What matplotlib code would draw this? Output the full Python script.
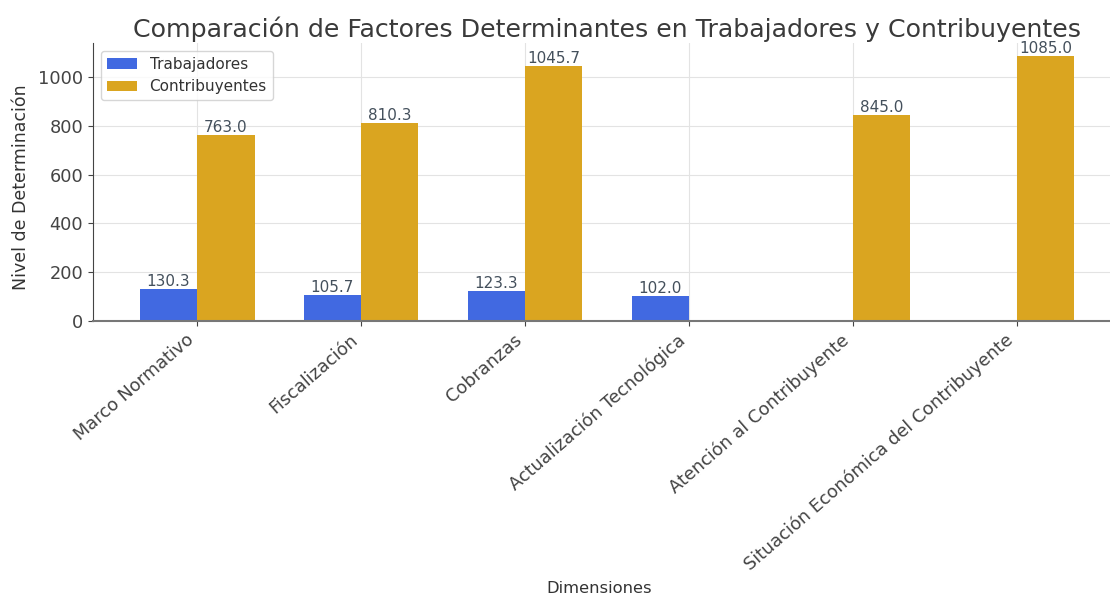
import numpy as np
import matplotlib
matplotlib.use("Agg")
import matplotlib.pyplot as plt

dimensiones = [
    "Marco Normativo",
    "Fiscalización",
    "Cobranzas",
    "Actualización Tecnológica",
    "Atención al Contribuyente",
    "Situación Económica del Contribuyente",
]
trabajadores = [130.3, 105.7, 123.3, 102.0, 0.0, 0.0]
contribuyentes = [763.0, 810.3, 1045.7, 0.0, 845.0, 1085.0]

text_color = "#333333"
plt.rcParams["text.color"] = text_color
plt.rcParams["axes.labelcolor"] = text_color
plt.rcParams["xtick.color"] = "#444444"
plt.rcParams["ytick.color"] = "#444444"

fig = plt.figure(figsize=(11.1, 5.97), dpi=100)
ax = fig.add_axes([0.0838, 0.4623, 0.9262, 0.4657])

x = np.arange(len(dimensiones))
w = 0.35
b1 = ax.bar(x - w / 2, trabajadores, w, label="Trabajadores", color="#4169E1")
b2 = ax.bar(x + w / 2, contribuyentes, w, label="Contribuyentes", color="#DAA520")

for bars, vals in ((b1, trabajadores), (b2, contribuyentes)):
    for rect, v in zip(bars, vals):
        if v > 0:
            ax.text(rect.get_x() + rect.get_width() / 2, v, f"{v:.1f}",
                    ha="center", va="bottom", fontsize=11, color="#44505c")

ax.set_xticks(x)
ax.set_xticklabels(dimensiones, rotation=41, ha="right",
                   rotation_mode="default", fontsize=12.8)
ax.tick_params(axis="y", labelsize=12.8)
ax.set_ylabel("Nivel de Determinación", fontsize=12.5)
ax.set_xlabel("Dimensiones", fontsize=11.8)
ax.yaxis.set_label_coords(-0.061, 0.48)
ax.xaxis.set_label_coords(0.492, -0.935)
ax.set_title("Comparación de Factores Determinantes en Trabajadores y Contribuyentes",
             fontsize=18.2, pad=4, color="#3a3a3a")

ax.grid(True, color="#e3e3e3", linewidth=0.8)
ax.set_axisbelow(True)
for s in ("top", "right"):
    ax.spines[s].set_visible(False)
ax.spines["left"].set_color("#444444")
ax.spines["bottom"].set_color("#777777")
ax.spines["bottom"].set_linewidth(1.5)

ax.legend(loc="upper left", fontsize=11, frameon=True)

fig.savefig("out.png", dpi=100)
